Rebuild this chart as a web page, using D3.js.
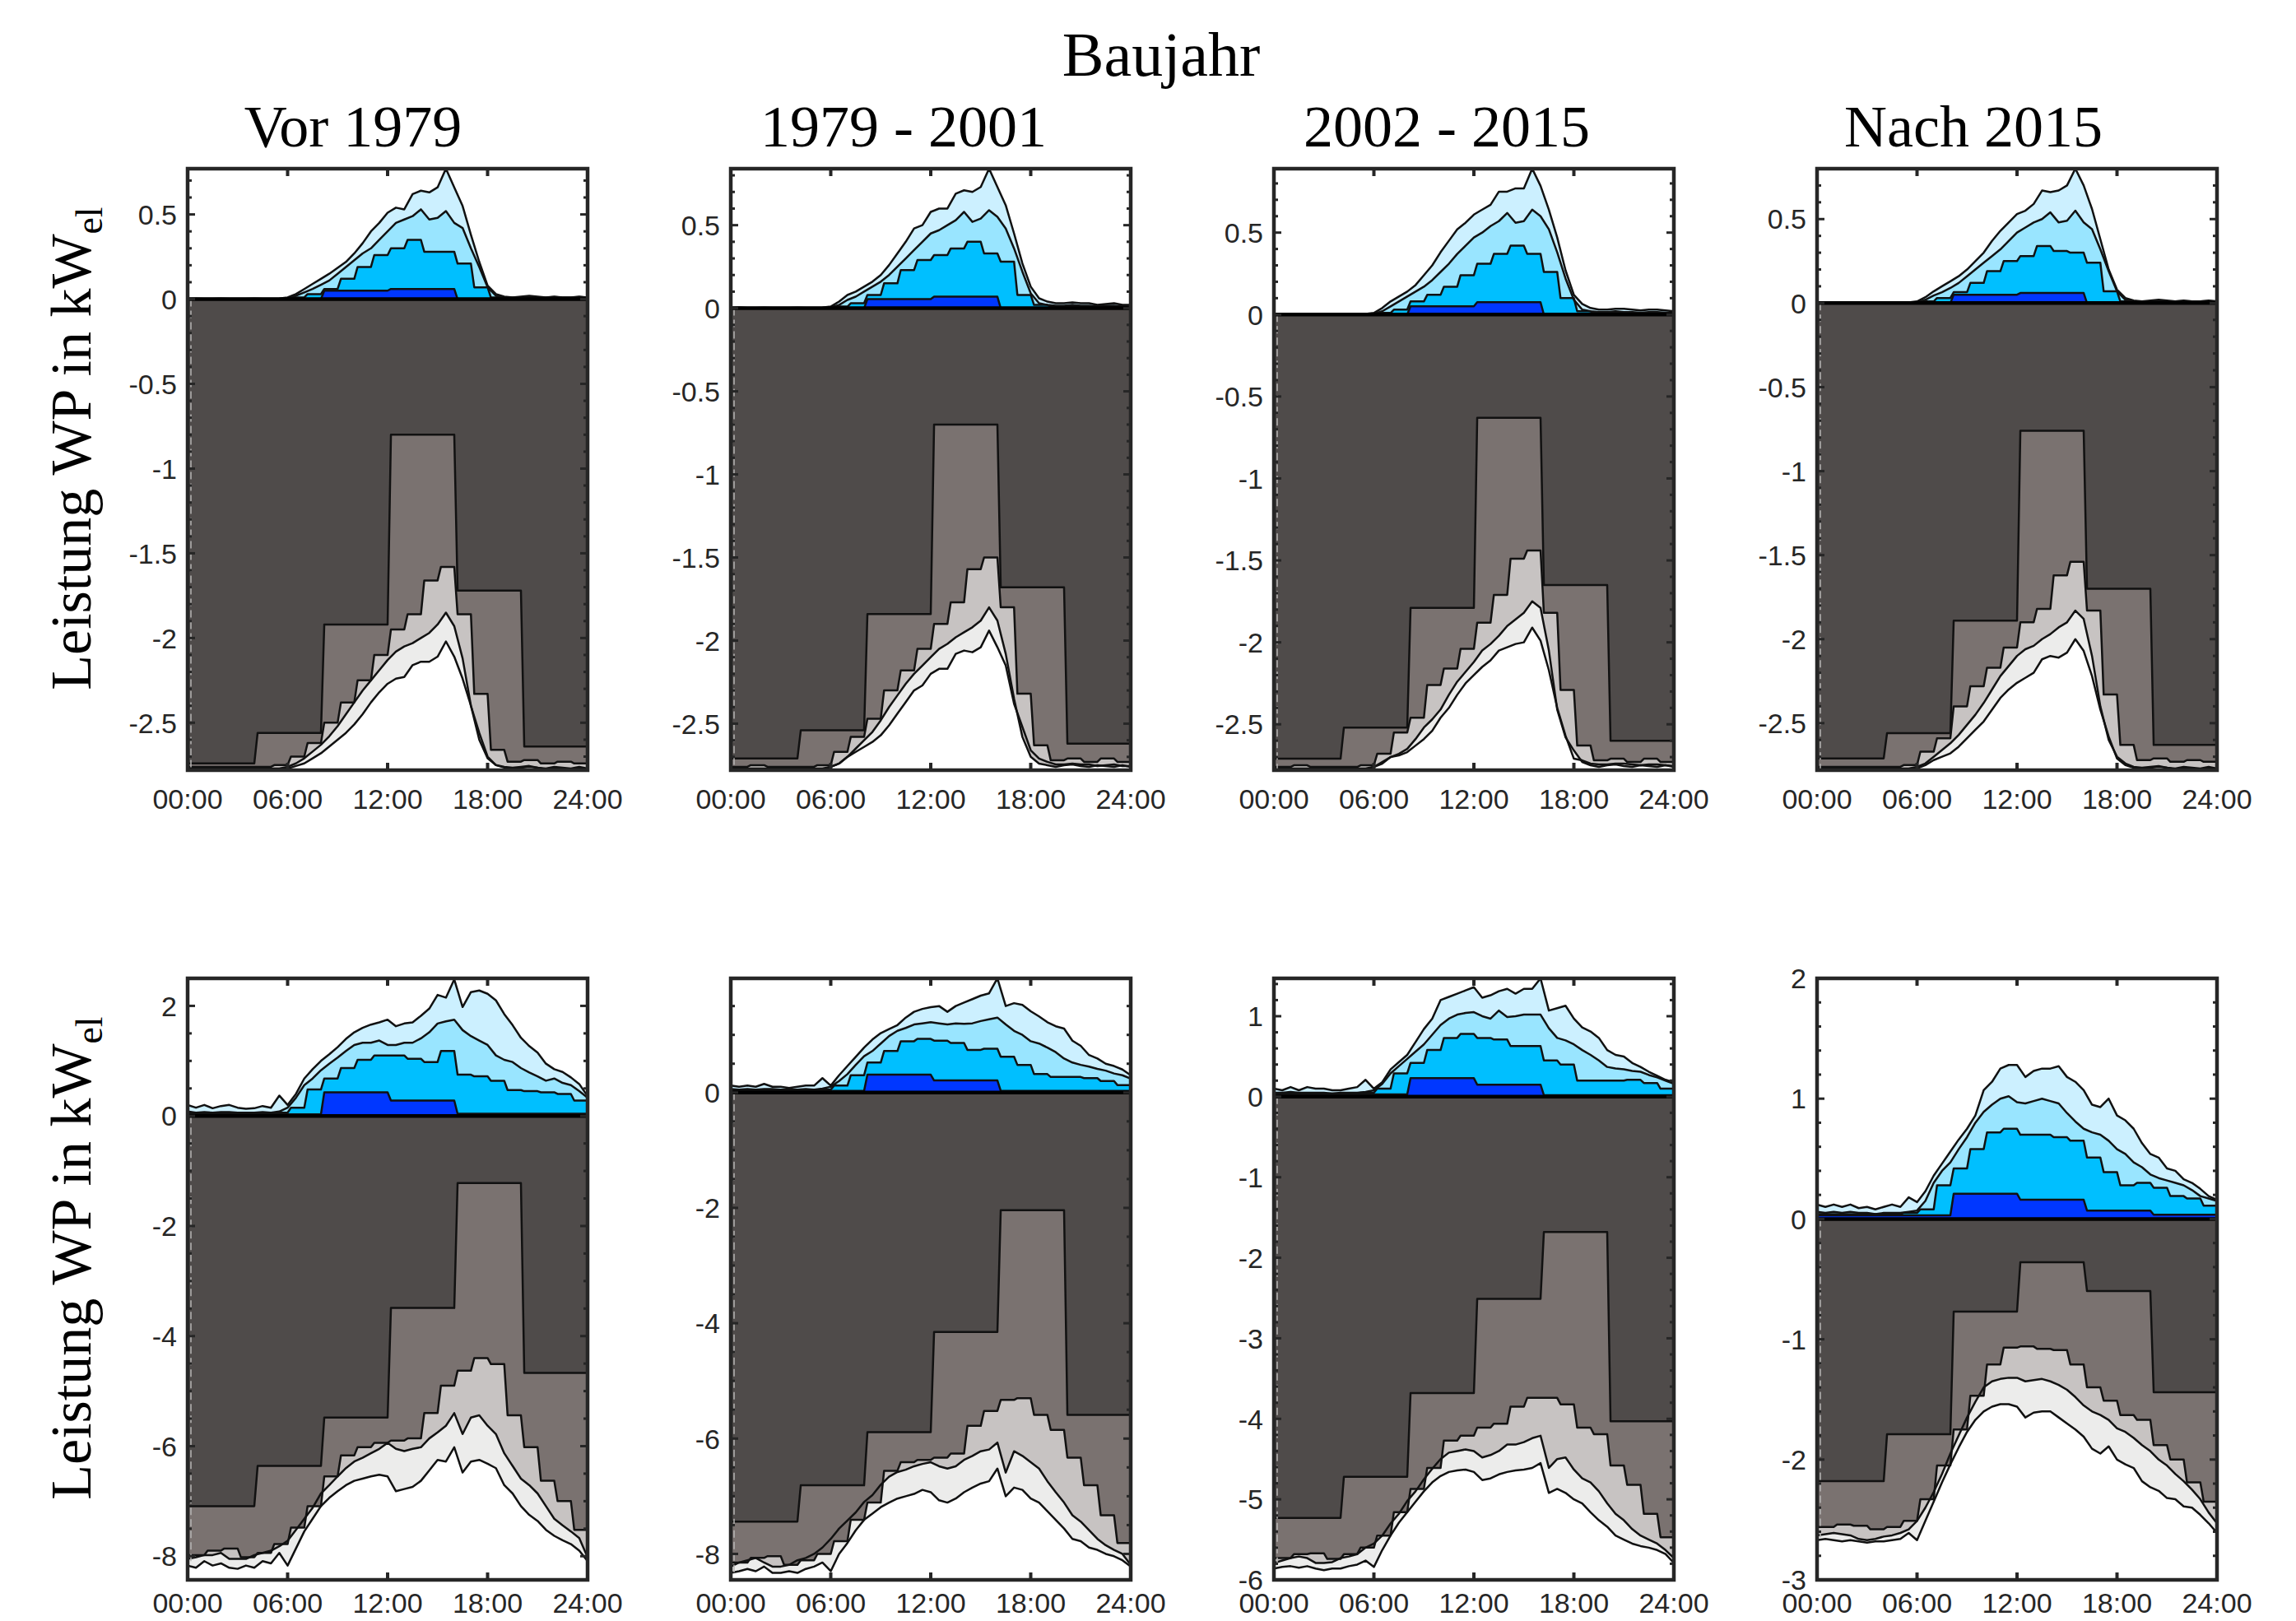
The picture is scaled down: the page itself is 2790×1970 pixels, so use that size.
<!DOCTYPE html>
<html>
<head>
<meta charset="utf-8">
<script src="https://cdn.jsdelivr.net/npm/d3@7"></script>
<style>
  body { margin: 0; background: #fff; }
  svg { display: block; }
</style>
</head>
<body>
<div id="okvir"></div>
<script>
// Zeitachsen (Stunden)
const blockHours = 4;                          // 6 Blöcke à 4 h
const stairHours = 1;                          // 24 Stundenwerte
const halfHours = d3.range(0, 24.001, 0.5);    // 49 Halbstundenwerte
const xTickValues = [0, 6, 12, 18, 24];
const xTickLabels = ["00:00", "06:00", "12:00", "18:00", "24:00"];

const columnTitles = ["Vor 1979", "1979 - 2001", "2002 - 2015", "Nach 2015"];

// y-Achsen
const ticksTop = [-2.5, -2, -1.5, -1, -0.5, 0, 0.5];
const ticksB1 = [-8, -6, -4, -2, 0, 2];
const ticksB2 = [-8, -6, -4, -2, 0];
const ticksB3 = [-6, -5, -4, -3, -2, -1, 0, 1];
const ticksB4 = [-3, -2, -1, 0, 1, 2];
const yLimA1 = [-2.78, 0.77];
const yLimA2 = [-2.78, 0.84];
const yLimA3 = [-2.78, 0.89];
const yLimA4 = [-2.78, 0.80];
const yLimB1 = [-8.43, 2.5];
const yLimB2 = [-8.45, 1.98];
const yLimB3 = [-6, 1.47];
const yLimB4 = [-3, 2];

// ---- obere Reihe, Vor 1979 ----
const a1_b1 = [0, 0, 0.05, 0.06, 0, 0];
const a1_b2 = [0,0,0,0,0,0, 0.01,0.03,0.06,0.12,0.19,0.26, 0.30,0.35,0.28,0.28, 0.21,0.07,0.01,0.005, 0.005,0.005,0.005,0.005];
const a1_b3 = [0,0,0,0,0,0,0,0,0,0,0,0,
  0.005,0.02,0.04,0.06,0.085,0.11,0.15,0.19,0.23,0.27,0.30,0.35,
  0.40,0.45,0.47,0.49,0.53,0.47,0.48,0.52,0.45,0.42,0.30,0.19,
  0.07,0.02,0.01,0.01,0.01,0.012,0.01,0.01,0.012,0.01,0.01,0.012,0.01];
const a1_b4 = [0.003,0.004,0.003,0.003,0.004,0.003,0.003,0.003,0.004,0.003,0.003,0.004,
  0.01,0.03,0.06,0.09,0.12,0.15,0.185,0.22,0.27,0.33,0.40,0.45,
  0.51,0.54,0.53,0.62,0.64,0.63,0.66,0.77,0.66,0.55,0.38,0.22,
  0.08,0.03,0.015,0.01,0.015,0.02,0.015,0.01,0.015,0.01,0.01,0.015,0.01];
const a1_g1 = [-2.74, -2.56, -1.92, -0.80, -1.72, -2.64];
const a1_g2 = [-2.76,-2.76,-2.76,-2.76,-2.76,-2.75, -2.70,-2.62,-2.50,-2.38,-2.25,-2.10, -1.95,-1.86,-1.66,-1.58, -1.86,-2.33,-2.66,-2.73, -2.72,-2.74,-2.73,-2.74];
const a1_g3 = [-2.77,-2.77,-2.77,-2.77,-2.77,-2.77,-2.77,-2.77,-2.77,-2.77,-2.77,-2.77,
  -2.76,-2.74,-2.71,-2.67,-2.63,-2.58,-2.52,-2.45,-2.38,-2.31,-2.25,-2.19,
  -2.13,-2.08,-2.05,-2.03,-2.00,-1.97,-1.92,-1.85,-1.93,-2.12,-2.40,-2.60,
  -2.71,-2.75,-2.76,-2.765,-2.76,-2.755,-2.765,-2.77,-2.76,-2.765,-2.77,-2.76,-2.77];
const a1_g4 = [-2.775,-2.775,-2.775,-2.775,-2.775,-2.775,-2.775,-2.775,-2.775,-2.775,-2.775,-2.775,
  -2.77,-2.755,-2.74,-2.71,-2.68,-2.64,-2.60,-2.56,-2.51,-2.45,-2.38,-2.32,
  -2.27,-2.24,-2.23,-2.16,-2.14,-2.14,-2.11,-2.02,-2.11,-2.24,-2.40,-2.56,
  -2.70,-2.75,-2.765,-2.77,-2.765,-2.76,-2.765,-2.775,-2.765,-2.77,-2.775,-2.765,-2.775];

// ---- obere Reihe, 1979 - 2001 ----
const a2_b1 = [0, 0, 0.055, 0.07, 0, 0];
const a2_b2 = [0,0,0,0,0,0, 0.01,0.03,0.08,0.15,0.23,0.29, 0.32,0.36,0.40,0.33, 0.28,0.08,0.02,0.01, 0.01,0.01,0.01,0.01];
const a2_b3 = [0,0,0,0,0,0,0,0,0,0,0,0,
  0.005,0.02,0.05,0.07,0.10,0.13,0.16,0.20,0.25,0.30,0.35,0.40,
  0.45,0.47,0.50,0.53,0.58,0.52,0.54,0.59,0.55,0.48,0.36,0.22,
  0.09,0.03,0.02,0.015,0.015,0.02,0.015,0.015,0.012,0.015,0.015,0.012,0.01];
const a2_b4 = [0.003,0.005,0.003,0.003,0.004,0.003,0.003,0.003,0.004,0.003,0.003,0.004,
  0.01,0.04,0.08,0.10,0.13,0.16,0.20,0.26,0.33,0.40,0.48,0.50,
  0.58,0.60,0.60,0.69,0.71,0.70,0.73,0.84,0.73,0.62,0.45,0.27,
  0.13,0.06,0.04,0.03,0.03,0.035,0.03,0.03,0.02,0.025,0.03,0.02,0.02];
const a2_g1 = [-2.71, -2.54, -1.84, -0.70, -1.68, -2.62];
const a2_g2 = [-2.76,-2.75,-2.76,-2.76,-2.76,-2.75, -2.67,-2.58,-2.47,-2.30,-2.18,-2.05, -1.90,-1.77,-1.57,-1.50, -1.80,-2.32,-2.63,-2.72, -2.71,-2.73,-2.71,-2.73];
const a2_g3 = [-2.77,-2.77,-2.77,-2.77,-2.77,-2.77,-2.77,-2.77,-2.77,-2.77,-2.77,-2.77,
  -2.76,-2.74,-2.70,-2.65,-2.60,-2.55,-2.48,-2.40,-2.33,-2.26,-2.20,-2.15,
  -2.10,-2.05,-2.02,-1.98,-1.95,-1.92,-1.88,-1.80,-1.88,-2.08,-2.35,-2.58,
  -2.70,-2.74,-2.75,-2.76,-2.75,-2.745,-2.755,-2.76,-2.75,-2.755,-2.76,-2.75,-2.76];
const a2_g4 = [-2.775,-2.775,-2.775,-2.775,-2.775,-2.775,-2.775,-2.775,-2.775,-2.775,-2.775,-2.775,
  -2.76,-2.74,-2.70,-2.67,-2.64,-2.61,-2.57,-2.51,-2.44,-2.37,-2.30,-2.27,
  -2.20,-2.17,-2.17,-2.08,-2.06,-2.07,-2.04,-1.94,-2.04,-2.15,-2.38,-2.52,
  -2.66,-2.71,-2.73,-2.745,-2.745,-2.74,-2.745,-2.745,-2.755,-2.75,-2.745,-2.755,-2.755];

// ---- obere Reihe, 2002 - 2015 ----
const a3_b1 = [0, 0, 0.05, 0.075, 0, 0];
const a3_b2 = [0,0,0,0,0,0, 0.01,0.03,0.08,0.12,0.17,0.24, 0.31,0.37,0.42,0.37, 0.26,0.10,0.02,0.01, 0.01,0.01,0.01,0.01];
const a3_b3 = [0,0,0,0,0,0,0,0,0,0,0,0,
  0.005,0.02,0.05,0.08,0.11,0.14,0.17,0.21,0.26,0.31,0.37,0.42,
  0.47,0.50,0.54,0.57,0.62,0.56,0.57,0.64,0.60,0.52,0.38,0.22,
  0.09,0.03,0.02,0.015,0.015,0.02,0.015,0.015,0.012,0.015,0.015,0.012,0.01];
const a3_b4 = [0.003,0.005,0.003,0.003,0.004,0.003,0.003,0.003,0.004,0.003,0.003,0.004,
  0.01,0.04,0.08,0.11,0.14,0.18,0.24,0.30,0.38,0.45,0.52,0.56,
  0.61,0.64,0.67,0.75,0.75,0.77,0.77,0.89,0.785,0.64,0.47,0.27,
  0.12,0.065,0.04,0.03,0.03,0.035,0.035,0.03,0.025,0.03,0.03,0.025,0.02];
const a3_g1 = [-2.71, -2.52, -1.79, -0.63, -1.65, -2.60];
const a3_g2 = [-2.76,-2.75,-2.76,-2.76,-2.76,-2.75, -2.68,-2.55,-2.46,-2.26,-2.16,-2.04, -1.88,-1.71,-1.49,-1.44, -1.82,-2.29,-2.63,-2.72, -2.71,-2.73,-2.71,-2.73];
const a3_g3 = [-2.77,-2.77,-2.77,-2.77,-2.77,-2.77,-2.77,-2.77,-2.77,-2.77,-2.77,-2.77,
  -2.76,-2.73,-2.70,-2.68,-2.65,-2.59,-2.52,-2.47,-2.41,-2.32,-2.24,-2.18,
  -2.12,-2.05,-2.01,-1.96,-1.90,-1.86,-1.82,-1.75,-1.79,-2.05,-2.41,-2.58,
  -2.66,-2.73,-2.75,-2.76,-2.75,-2.745,-2.755,-2.76,-2.75,-2.755,-2.76,-2.75,-2.76];
const a3_g4 = [-2.775,-2.775,-2.775,-2.775,-2.775,-2.775,-2.775,-2.775,-2.775,-2.775,-2.775,-2.775,
  -2.76,-2.74,-2.70,-2.69,-2.67,-2.63,-2.59,-2.54,-2.46,-2.40,-2.32,-2.25,
  -2.20,-2.15,-2.11,-2.05,-2.03,-2.01,-2.00,-1.91,-1.99,-2.17,-2.40,-2.57,
  -2.71,-2.72,-2.74,-2.745,-2.745,-2.74,-2.74,-2.745,-2.75,-2.745,-2.745,-2.75,-2.755];

// ---- obere Reihe, Nach 2015 ----
const a4_b1 = [0, 0, 0.05, 0.06, 0, 0];
const a4_b2 = [0,0,0,0,0,0, 0.01,0.03,0.065,0.12,0.19,0.25, 0.28,0.34,0.31,0.30, 0.24,0.07,0.01,0.005, 0.005,0.005,0.005,0.005];
const a4_b3 = [0,0,0,0,0,0,0,0,0,0,0,0,
  0.005,0.02,0.045,0.065,0.09,0.12,0.16,0.20,0.24,0.28,0.32,0.37,
  0.42,0.45,0.48,0.50,0.54,0.48,0.49,0.55,0.48,0.44,0.32,0.19,
  0.07,0.02,0.01,0.01,0.01,0.012,0.01,0.01,0.012,0.01,0.01,0.012,0.01];
const a4_b4 = [0.003,0.004,0.003,0.003,0.004,0.003,0.003,0.003,0.004,0.003,0.003,0.004,
  0.01,0.035,0.07,0.10,0.13,0.16,0.20,0.25,0.30,0.37,0.43,0.48,
  0.53,0.55,0.59,0.67,0.66,0.67,0.70,0.80,0.70,0.56,0.38,0.20,
  0.08,0.03,0.015,0.01,0.015,0.02,0.015,0.01,0.015,0.01,0.01,0.015,0.01];
const a4_g1 = [-2.71, -2.56, -1.89, -0.76, -1.70, -2.63];
const a4_g2 = [-2.76,-2.76,-2.76,-2.76,-2.76,-2.75, -2.67,-2.59,-2.40,-2.28,-2.17,-2.05, -1.90,-1.82,-1.62,-1.54, -1.83,-2.33,-2.63,-2.72, -2.71,-2.73,-2.72,-2.73];
const a4_g3 = [-2.77,-2.77,-2.77,-2.77,-2.77,-2.77,-2.77,-2.77,-2.77,-2.77,-2.77,-2.77,
  -2.76,-2.74,-2.70,-2.66,-2.62,-2.57,-2.51,-2.45,-2.38,-2.30,-2.22,-2.16,
  -2.10,-2.06,-2.04,-2.00,-1.97,-1.93,-1.90,-1.83,-1.88,-2.10,-2.40,-2.60,
  -2.70,-2.74,-2.76,-2.765,-2.76,-2.755,-2.765,-2.77,-2.76,-2.765,-2.77,-2.76,-2.77];
const a4_g4 = [-2.775,-2.775,-2.775,-2.775,-2.775,-2.775,-2.775,-2.775,-2.775,-2.775,-2.775,-2.775,
  -2.77,-2.75,-2.72,-2.70,-2.68,-2.64,-2.59,-2.54,-2.49,-2.42,-2.35,-2.30,
  -2.26,-2.23,-2.20,-2.12,-2.10,-2.11,-2.08,-2.00,-2.07,-2.22,-2.42,-2.58,
  -2.71,-2.75,-2.765,-2.77,-2.765,-2.76,-2.765,-2.775,-2.765,-2.77,-2.775,-2.765,-2.775];

// ---- untere Reihe, Vor 1979 ----
const b1_b1 = [0.03, 0.03, 0.43, 0.28, 0.04, 0.04];
const b1_b2 = [0.05,0.05,0.05,0.05,0.05,0.06, 0.15,0.48,0.68,0.87,1.02,1.10, 1.10,1.04,0.98,1.18, 0.75,0.72,0.64,0.47, 0.45,0.43,0.40,0.28];
const b1_b3 = [0.08,0.06,0.07,0.06,0.07,0.07,0.06,0.06,0.06,0.07,0.06,0.08,
  0.15,0.33,0.56,0.68,0.83,0.95,1.06,1.18,1.29,1.33,1.33,1.37,
  1.29,1.29,1.33,1.33,1.41,1.52,1.68,1.72,1.75,1.56,1.45,1.37,
  1.29,1.10,1.02,0.98,0.87,0.79,0.72,0.64,0.68,0.60,0.56,0.45,0.33];
const b1_b4 = [0.20,0.15,0.20,0.14,0.18,0.20,0.15,0.13,0.14,0.18,0.15,0.37,
  0.20,0.40,0.68,0.85,1.00,1.12,1.25,1.40,1.52,1.60,1.66,1.70,
  1.75,1.63,1.68,1.70,1.82,1.95,2.20,2.15,2.48,1.98,2.25,2.28,
  2.22,2.10,1.85,1.65,1.42,1.27,1.15,0.95,0.85,0.80,0.70,0.58,0.36];
const b1_g1 = [-7.09, -6.36, -5.48, -3.49, -1.22, -4.67];
const b1_g2 = [-7.98,-7.90,-7.86,-8.02,-7.94,-7.78, -7.48,-7.09,-6.55,-6.17,-6.02,-5.94, -5.90,-5.86,-5.40,-4.90, -4.63,-4.40,-4.51,-5.44, -6.02,-6.63,-7.00,-7.52];
const b1_g3 = [-8.05,-8.02,-7.98,-7.98,-7.94,-8.05,-8.05,-8.05,-7.98,-7.94,-7.90,-7.82,
  -7.72,-7.52,-7.32,-7.12,-6.86,-6.71,-6.55,-6.40,-6.28,-6.21,-6.13,-6.05,
  -5.94,-6.05,-6.09,-6.05,-6.02,-5.86,-5.75,-5.63,-5.40,-5.78,-5.48,-5.44,
  -5.63,-5.78,-6.13,-6.36,-6.59,-6.71,-6.86,-7.09,-7.32,-7.44,-7.55,-7.67,-8.02];
const b1_g4 = [-8.17,-8.21,-8.09,-8.17,-8.13,-8.21,-8.23,-8.17,-8.21,-8.09,-8.13,-7.94,
  -8.17,-7.86,-7.55,-7.32,-7.09,-6.94,-6.82,-6.71,-6.63,-6.59,-6.55,-6.52,
  -6.55,-6.82,-6.78,-6.74,-6.63,-6.44,-6.25,-6.28,-6.02,-6.48,-6.28,-6.25,
  -6.32,-6.40,-6.71,-6.86,-7.09,-7.25,-7.36,-7.52,-7.63,-7.71,-7.78,-7.90,-8.09];

// ---- untere Reihe, 1979 - 2001 ----
const b2_b1 = [0.03, 0.03, 0.31, 0.21, 0.03, 0.03];
const b2_b2 = [0.04,0.04,0.04,0.04,0.04,0.05, 0.12,0.30,0.52,0.72,0.89,0.93, 0.90,0.86,0.74,0.76, 0.62,0.48,0.32,0.27, 0.27,0.25,0.20,0.13];
const b2_b3 = [0.06,0.05,0.06,0.05,0.06,0.06,0.05,0.05,0.05,0.06,0.05,0.07,
  0.10,0.20,0.32,0.48,0.63,0.72,0.85,0.98,1.07,1.12,1.18,1.20,
  1.22,1.20,1.18,1.20,1.19,1.20,1.24,1.27,1.30,1.18,1.07,1.00,
  0.89,0.85,0.78,0.70,0.59,0.52,0.48,0.45,0.41,0.38,0.33,0.30,0.24];
const b2_b4 = [0.12,0.10,0.12,0.10,0.15,0.10,0.10,0.08,0.10,0.12,0.12,0.25,
  0.12,0.30,0.46,0.62,0.78,0.92,1.03,1.10,1.17,1.30,1.40,1.45,
  1.48,1.50,1.40,1.50,1.56,1.62,1.68,1.72,1.98,1.50,1.55,1.52,
  1.41,1.32,1.22,1.15,1.11,0.90,0.81,0.65,0.59,0.50,0.46,0.40,0.30];
const b2_g1 = [-7.44, -6.81, -5.89, -4.15, -2.04, -5.59];
const b2_g2 = [-8.15,-8.07,-8.04,-8.19,-8.11,-8.00, -7.78,-7.41,-7.11,-6.56,-6.41,-6.37, -6.33,-6.26,-5.78,-5.52, -5.33,-5.30,-5.59,-5.85, -6.33,-6.81,-7.33,-7.81];
const b2_g3 = [-8.22,-8.15,-8.11,-8.07,-8.15,-8.22,-8.22,-8.19,-8.11,-8.07,-8.00,-7.89,
  -7.74,-7.56,-7.42,-7.28,-7.10,-6.98,-6.80,-6.66,-6.58,-6.54,-6.48,-6.44,
  -6.41,-6.48,-6.52,-6.48,-6.37,-6.30,-6.22,-6.19,-6.07,-6.59,-6.22,-6.30,
  -6.41,-6.52,-6.74,-6.93,-7.11,-7.33,-7.44,-7.59,-7.74,-7.85,-7.93,-8.00,-8.19];
const b2_g4 = [-8.33,-8.30,-8.26,-8.30,-8.22,-8.33,-8.33,-8.30,-8.33,-8.26,-8.22,-8.15,
  -8.30,-8.00,-7.81,-7.59,-7.41,-7.30,-7.19,-7.11,-7.04,-7.00,-6.96,-6.89,
  -6.93,-7.07,-7.11,-7.04,-6.93,-6.85,-6.78,-6.74,-6.52,-7.00,-6.85,-6.89,
  -7.04,-7.11,-7.26,-7.41,-7.56,-7.74,-7.78,-7.89,-7.93,-8.00,-8.04,-8.11,-8.22];

// ---- untere Reihe, 2002 - 2015 ----
const b3_b1 = [0.03, 0.03, 0.23, 0.15, 0.02, 0.02];
const b3_b2 = [0.04,0.04,0.04,0.04,0.04,0.05, 0.10,0.29,0.42,0.58,0.73,0.78, 0.73,0.71,0.63,0.63, 0.45,0.40,0.20,0.20, 0.20,0.21,0.17,0.10];
const b3_b3 = [0.05,0.05,0.06,0.05,0.05,0.05,0.05,0.04,0.05,0.05,0.05,0.06,
  0.08,0.16,0.29,0.38,0.47,0.56,0.65,0.77,0.89,0.97,1.02,1.04,
  1.05,1.00,0.97,1.07,0.99,1.00,1.02,1.02,1.02,0.85,0.73,0.70,
  0.65,0.58,0.52,0.45,0.37,0.35,0.34,0.32,0.31,0.27,0.24,0.20,0.16];
const b3_b4 = [0.10,0.08,0.12,0.08,0.12,0.10,0.10,0.08,0.08,0.10,0.12,0.21,
  0.10,0.18,0.34,0.43,0.52,0.68,0.84,0.97,1.20,1.24,1.28,1.32,
  1.36,1.23,1.26,1.31,1.34,1.28,1.34,1.34,1.47,1.07,1.10,1.13,
  0.97,0.86,0.81,0.73,0.58,0.52,0.50,0.42,0.37,0.31,0.26,0.21,0.18];
const b3_g1 = [-5.23, -4.72, -3.68, -2.51, -1.68, -4.03];
const b3_g2 = [-5.73,-5.68,-5.67,-5.74,-5.68,-5.60, -5.45,-5.16,-4.87,-4.61,-4.27,-4.21, -4.11,-4.06,-3.85,-3.74, -3.74,-3.82,-4.11,-4.19, -4.58,-4.82,-5.18,-5.47];
const b3_g3 = [-5.79,-5.76,-5.73,-5.71,-5.73,-5.79,-5.79,-5.78,-5.73,-5.71,-5.68,-5.60,
  -5.55,-5.45,-5.30,-5.18,-5.02,-4.90,-4.75,-4.62,-4.50,-4.42,-4.40,-4.38,
  -4.40,-4.48,-4.45,-4.40,-4.32,-4.32,-4.29,-4.24,-4.21,-4.61,-4.50,-4.48,
  -4.63,-4.74,-4.79,-4.90,-5.05,-5.18,-5.26,-5.37,-5.45,-5.50,-5.55,-5.63,-5.73];
const b3_g4 = [-5.86,-5.84,-5.83,-5.85,-5.83,-5.86,-5.88,-5.86,-5.86,-5.83,-5.81,-5.76,
  -5.84,-5.63,-5.45,-5.29,-5.16,-5.03,-4.90,-4.79,-4.71,-4.66,-4.64,-4.63,
  -4.66,-4.76,-4.74,-4.69,-4.66,-4.64,-4.63,-4.61,-4.55,-4.92,-4.87,-4.92,
  -5.00,-5.05,-5.16,-5.26,-5.34,-5.45,-5.50,-5.55,-5.58,-5.60,-5.63,-5.68,-5.79];

// ---- untere Reihe, Nach 2015 ----
const b4_b1 = [0.03, 0.03, 0.21, 0.16, 0.07, 0.035];
const b4_b2 = [0.04,0.04,0.04,0.04,0.04,0.05, 0.08,0.28,0.42,0.58,0.72,0.75, 0.70,0.70,0.68,0.65, 0.51,0.39,0.28,0.30, 0.26,0.19,0.17,0.11];
const b4_b3 = [0.06,0.05,0.06,0.05,0.06,0.05,0.05,0.04,0.05,0.05,0.05,0.06,
  0.07,0.15,0.30,0.40,0.47,0.58,0.68,0.80,0.89,0.95,1.00,1.02,
  0.97,0.96,0.98,1.00,0.98,0.96,0.88,0.81,0.75,0.72,0.70,0.65,
  0.58,0.54,0.47,0.43,0.37,0.34,0.32,0.30,0.28,0.24,0.19,0.17,0.15];
const b4_b4 = [0.12,0.10,0.12,0.10,0.12,0.09,0.10,0.08,0.10,0.12,0.10,0.18,
  0.14,0.23,0.36,0.46,0.56,0.66,0.75,0.86,1.07,1.14,1.25,1.28,
  1.28,1.18,1.23,1.25,1.25,1.27,1.18,1.14,1.07,0.95,0.93,1.00,
  0.86,0.82,0.75,0.63,0.54,0.51,0.42,0.40,0.33,0.30,0.25,0.19,0.16];
const b4_g1 = [-2.18, -1.79, -0.77, -0.36, -0.60, -1.44];
const b4_g2 = [-2.56,-2.54,-2.55,-2.58,-2.56,-2.51, -2.33,-2.05,-1.75,-1.47,-1.21,-1.07, -1.06,-1.08,-1.09,-1.21, -1.40,-1.51,-1.63,-1.67, -1.88,-2.00,-2.19,-2.35];
const b4_g3 = [-2.63,-2.62,-2.61,-2.62,-2.63,-2.66,-2.67,-2.66,-2.64,-2.63,-2.61,-2.58,
  -2.51,-2.40,-2.27,-2.12,-1.95,-1.80,-1.65,-1.52,-1.40,-1.35,-1.33,-1.32,
  -1.32,-1.35,-1.34,-1.33,-1.35,-1.38,-1.42,-1.48,-1.55,-1.60,-1.63,-1.67,
  -1.74,-1.77,-1.82,-1.88,-1.93,-2.00,-2.05,-2.12,-2.18,-2.25,-2.33,-2.44,-2.53];
const b4_g4 = [-2.67,-2.66,-2.67,-2.68,-2.67,-2.68,-2.69,-2.68,-2.68,-2.67,-2.66,-2.61,
  -2.67,-2.51,-2.35,-2.19,-2.04,-1.90,-1.77,-1.67,-1.60,-1.56,-1.54,-1.54,
  -1.56,-1.65,-1.61,-1.60,-1.60,-1.65,-1.70,-1.75,-1.81,-1.91,-1.95,-1.89,
  -2.00,-2.04,-2.07,-2.18,-2.23,-2.26,-2.32,-2.33,-2.39,-2.40,-2.46,-2.53,-2.61];

// Farben
const blueColors = ["#0037ff", "#00bfff", "#99e5ff", "#ccf0ff"];
const greyColors = ["#4f4b4a", "#7a7270", "#c7c3c2", "#ececeb"];

const panels = [
  { row: 0, col: 0, yLim: yLimA1, ticks: ticksTop, minor: 0.1, blue: [a1_b1, a1_b2, a1_b3, a1_b4], grey: [a1_g1, a1_g2, a1_g3, a1_g4] },
  { row: 0, col: 1, yLim: yLimA2, ticks: ticksTop, minor: 0.1, blue: [a2_b1, a2_b2, a2_b3, a2_b4], grey: [a2_g1, a2_g2, a2_g3, a2_g4] },
  { row: 0, col: 2, yLim: yLimA3, ticks: ticksTop, minor: 0.1, blue: [a3_b1, a3_b2, a3_b3, a3_b4], grey: [a3_g1, a3_g2, a3_g3, a3_g4] },
  { row: 0, col: 3, yLim: yLimA4, ticks: ticksTop, minor: 0.1, blue: [a4_b1, a4_b2, a4_b3, a4_b4], grey: [a4_g1, a4_g2, a4_g3, a4_g4] },
  { row: 1, col: 0, yLim: yLimB1, ticks: ticksB1, minor: 0.5, blue: [b1_b1, b1_b2, b1_b3, b1_b4], grey: [b1_g1, b1_g2, b1_g3, b1_g4] },
  { row: 1, col: 1, yLim: yLimB2, ticks: ticksB2, minor: 0.5, blue: [b2_b1, b2_b2, b2_b3, b2_b4], grey: [b2_g1, b2_g2, b2_g3, b2_g4] },
  { row: 1, col: 2, yLim: yLimB3, ticks: ticksB3, minor: 0.2, blue: [b3_b1, b3_b2, b3_b3, b3_b4], grey: [b3_g1, b3_g2, b3_g3, b3_g4] },
  { row: 1, col: 3, yLim: yLimB4, ticks: ticksB4, minor: 0.2, blue: [b4_b1, b4_b2, b4_b3, b4_b4], grey: [b4_g1, b4_g2, b4_g3, b4_g4] }
];

// Layout
const width = 2790, height = 1970;
const panelW = 486, panelH = 731;
const colX = [228, 888, 1548, 2208];
const rowY = [205, 1189];
const labelOffset = [47, 40];   // Abstand x-Beschriftung unter der Achse, je Reihe
const titleX = [429, 1098, 1758, 2398];
const ramp = 0.2; // Übergangsbreite der Stufen in h

const svg = d3.select("#okvir")
  .append("svg")
  .attr("width", width)
  .attr("height", height);

// Stufen (Blöcke/Stunden) in Punkte umwandeln
function stepPoints(vals, step) {
  const pts = [];
  vals.forEach((v, i) => {
    const t0 = i * step;
    pts.push([i === 0 ? t0 : t0 + ramp, v]);
    pts.push([t0 + step, v]);
  });
  return pts;
}
function seriesPoints(vals) {
  if (vals.length === 6) return stepPoints(vals, blockHours);
  if (vals.length === 24) return stepPoints(vals, stairHours);
  return halfHours.map((t, i) => [t, vals[i]]);
}

const fmt = v => String(v);

panels.forEach((p, idx) => {
  const x = d3.scaleLinear().domain([0, 24]).range([0, panelW]);
  const y = d3.scaleLinear().domain(p.yLim).range([panelH, 0]);

  const g = svg.append("g")
    .attr("transform", "translate(" + colX[p.col] + "," + rowY[p.row] + ")");

  g.append("clipPath").attr("id", "clip" + idx)
    .append("rect").attr("width", panelW).attr("height", panelH);

  const plot = g.append("g").attr("clip-path", "url(#clip" + idx + ")");

  const area = d3.area().x(d => x(d[0])).y0(y(0)).y1(d => y(d[1]));
  const line = d3.line().x(d => x(d[0])).y(d => y(d[1]));

  // negative Flächen: hellste zuerst
  for (let k = 3; k >= 0; k--) {
    const pts = seriesPoints(p.grey[k]);
    plot.append("path").attr("d", area(pts)).attr("fill", greyColors[k]);
  }
  for (let k = 3; k >= 0; k--) {
    const pts = seriesPoints(p.grey[k]);
    plot.append("path").attr("d", line(pts))
      .attr("fill", "none").attr("stroke", "#111").attr("stroke-width", 2.5)
      .attr("stroke-linejoin", "round");
  }
  // helle gestrichelte Kante links (wie im Original)
  plot.append("line")
    .attr("x1", 4).attr("x2", 4)
    .attr("y1", y(0)).attr("y2", y(p.grey[3][0]))
    .attr("stroke", "#b8b6b5").attr("stroke-width", 1.5)
    .attr("stroke-dasharray", "9,5");

  // positive Flächen: hellste zuerst
  for (let k = 3; k >= 0; k--) {
    const pts = seriesPoints(p.blue[k]);
    plot.append("path").attr("d", area(pts)).attr("fill", blueColors[k]);
  }
  for (let k = 3; k >= 0; k--) {
    const pts = seriesPoints(p.blue[k]);
    plot.append("path").attr("d", line(pts))
      .attr("fill", "none").attr("stroke", "#111").attr("stroke-width", 2.5)
      .attr("stroke-linejoin", "round");
  }

  // Nulllinie
  plot.append("line")
    .attr("x1", 0).attr("x2", panelW)
    .attr("y1", y(0)).attr("y2", y(0))
    .attr("stroke", "#000").attr("stroke-width", 4.5);

  // Rahmen
  g.append("rect")
    .attr("width", panelW).attr("height", panelH)
    .attr("fill", "none").attr("stroke", "#262626").attr("stroke-width", 4.5);

  // x-Ticks innen oben und unten
  xTickValues.forEach(t => {
    g.append("line").attr("x1", x(t)).attr("x2", x(t)).attr("y1", 0).attr("y2", 9)
      .attr("stroke", "#262626").attr("stroke-width", 4);
    g.append("line").attr("x1", x(t)).attr("x2", x(t)).attr("y1", panelH).attr("y2", panelH - 9)
      .attr("stroke", "#262626").attr("stroke-width", 4);
  });

  // y-Ticks (Haupt- und Nebenteilung), links und rechts innen
  const minorVals = d3.range(Math.ceil(p.yLim[0] / p.minor), Math.floor(p.yLim[1] / p.minor) + 1)
    .map(i => +(i * p.minor).toFixed(3));
  minorVals.forEach(v => {
    const major = p.ticks.some(t => Math.abs(t - v) < 1e-6);
    const len = major ? 9 : 5;
    g.append("line").attr("x1", 0).attr("x2", len).attr("y1", y(v)).attr("y2", y(v))
      .attr("stroke", "#262626").attr("stroke-width", 3);
    g.append("line").attr("x1", panelW).attr("x2", panelW - len).attr("y1", y(v)).attr("y2", y(v))
      .attr("stroke", "#262626").attr("stroke-width", 3);
  });

  // y-Beschriftung
  g.append("g").selectAll("text")
    .data(p.ticks)
    .enter()
    .append("text")
    .attr("x", -13)
    .attr("y", d => y(d))
    .attr("dy", "0.36em")
    .attr("text-anchor", "end")
    .style("font-family", "'Liberation Sans', Arial, sans-serif")
    .style("font-size", "34px")
    .style("fill", "#262626")
    .text(fmt);

  // x-Beschriftung
  g.append("g").selectAll("text")
    .data(xTickValues)
    .enter()
    .append("text")
    .attr("x", d => x(d))
    .attr("y", panelH + labelOffset[p.row])
    .attr("text-anchor", "middle")
    .style("font-family", "'Liberation Sans', Arial, sans-serif")
    .style("font-size", "34px")
    .style("fill", "#262626")
    .text((d, i) => xTickLabels[i]);
});

// Titel
const serif = "'Liberation Serif', 'Times New Roman', serif";
svg.append("text")
  .attr("x", 1411).attr("y", 92)
  .attr("text-anchor", "middle")
  .style("font-family", serif).style("font-size", "76px")
  .text("Baujahr");

columnTitles.forEach((t, i) => {
  svg.append("text")
    .attr("x", titleX[i]).attr("y", 178)
    .attr("text-anchor", "middle")
    .style("font-family", serif).style("font-size", "72px")
    .text(t);
});

// y-Achsentitel
[545, 1529].forEach(cy => {
  const txt = svg.append("text")
    .attr("transform", "translate(110," + cy + ") rotate(-90)")
    .attr("text-anchor", "middle")
    .style("font-family", serif).style("font-size", "70px");
  txt.append("tspan").text("Leistung WP in kW");
  txt.append("tspan").attr("dy", 14).style("font-size", "46px").text("el");
});
</script>
</body>
</html>
